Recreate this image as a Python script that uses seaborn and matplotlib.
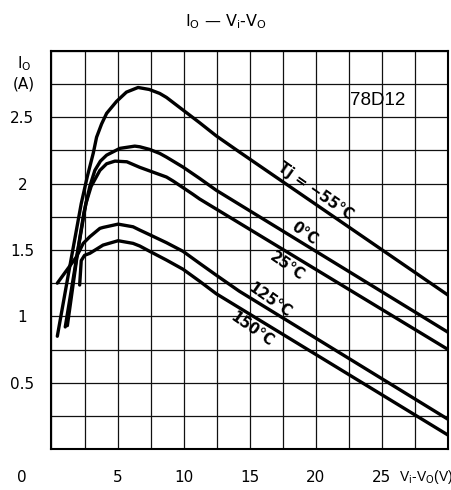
""" Io vs Vi-Vo output current curves for the 78D12 regulator """

import matplotlib
matplotlib.use("Agg")
import matplotlib.pyplot as plt
import numpy as np
import pandas as pd
import seaborn as sns

# curves: (Vi-Vo in V, Io in A)
temps = ["-55", "0", "25", "125", "150"]

v_m55 = [0.44, 1.3, 2.25, 2.7, 3.16, 3.41, 3.79, 4.17, 4.92, 5.67, 6.55, 7.4, 8.19, 8.7, 9.95, 11.2, 12.47, 14.2, 30]
i_m55 = [0.85, 1.33, 1.85, 2.05, 2.23, 2.35, 2.45, 2.53, 2.62, 2.69, 2.725, 2.71, 2.68, 2.65, 2.555, 2.46, 2.36, 2.24, 1.16]

v_0 = [1.04, 1.75, 2.45, 2.9, 3.28, 3.7, 4.17, 5.17, 6.3, 6.68, 7.43, 8.19, 8.7, 9.95, 11.2, 12.47, 30]
i_0 = [0.92, 1.35, 1.78, 1.98, 2.10, 2.17, 2.215, 2.266, 2.283, 2.278, 2.258, 2.228, 2.2, 2.125, 2.04, 1.95, 0.88]

v_25 = [1.2, 2.0, 2.6, 3.0, 3.66, 4.17, 4.8, 5.7, 6.68, 8.7, 9.2, 10.7, 11.2, 30]
i_25 = [0.93, 1.5, 1.85, 1.98, 2.10, 2.15, 2.17, 2.165, 2.123, 2.05, 2.02, 1.92, 1.885, 0.75]

v_125 = [0.44, 1.9, 2.4, 2.9, 3.66, 3.9, 5.04, 6.17, 6.68, 7.43, 8.7, 9.95, 11.2, 12.47, 14.2, 30]
i_125 = [1.25, 1.45, 1.55, 1.6, 1.663, 1.67, 1.695, 1.675, 1.65, 1.615, 1.555, 1.49, 1.40, 1.31, 1.19, 0.224]

v_150 = [2.13, 2.25, 2.5, 2.9, 3.9, 5.04, 6.17, 6.68, 7.43, 8.7, 9.95, 11.2, 12.47, 30]
i_150 = [1.236, 1.42, 1.46, 1.475, 1.537, 1.57, 1.55, 1.53, 1.49, 1.424, 1.355, 1.265, 1.17, 0.105]

curve_labels = ["Tj = −55°C", "0°C", "25°C", "125°C", "150°C"]

x_ticks = [5, 10, 15, 20, 25]
x_tick_labels = ["5", "10", "15", "20", "25"]
y_ticks = [0.5, 1, 1.5, 2, 2.5]
y_tick_labels = ["0.5", "1", "1.5", "2", "2.5"]

# build a long table for seaborn
frames = []
for t, v, i in zip(temps, [v_m55, v_0, v_25, v_125, v_150], [i_m55, i_0, i_25, i_125, i_150]):
    frames.append(pd.DataFrame({"Tj": t, "V": v, "I": i}))
df = pd.concat(frames, ignore_index=True)

sns.set_style("white")
plt.rcParams["font.family"] = ["DejaVu Sans"]
plt.rcParams["text.color"] = "black"
plt.rcParams["xtick.color"] = "black"
plt.rcParams["ytick.color"] = "black"

fig = plt.figure(figsize=(4.52, 4.90), dpi=100)
ax = fig.add_axes([51.5 / 452, 1 - 449 / 490, 396.5 / 452, 398 / 490])

sns.lineplot(data=df, x="V", y="I", units="Tj", estimator=None, sort=False,
             color="black", linewidth=2.4, ax=ax)
for line in ax.lines:
    line.set_solid_joinstyle("round")

ax.set_xlim(0, 30)
ax.set_ylim(0, 3)

# grid every 2.5 V and 0.25 A
ax.set_xticks(x_ticks)
ax.set_xticklabels(x_tick_labels)
ax.set_xticks(np.arange(0, 30.01, 2.5), minor=True)
ax.set_yticks(y_ticks)
ax.set_yticklabels(y_tick_labels)
ax.set_yticks(np.arange(0, 3.01, 0.25), minor=True)
ax.grid(which="both", color="#111111", linewidth=0.9)
ax.tick_params(which="both", length=0, labelsize=11)
ax.tick_params(axis="x", pad=15)
ax.tick_params(axis="y", pad=21)
for lab in ax.get_yticklabels():
    lab.set_horizontalalignment("center")
for side in ax.spines.values():
    side.set_color("black")
    side.set_linewidth(1.5)
ax.set_xlabel("")
ax.set_ylabel("")

# curve labels along the lines
label_pos = [(19.95, 1.94), (19.13, 1.625), (17.85, 1.38), (16.5, 1.123), (15.15, 0.904)]
for txt, (lx, ly) in zip(curve_labels, label_pos):
    ax.text(lx, ly, txt, rotation=-35, ha="center", va="center", fontsize=10.5,
            fontweight="semibold")

ax.text(24.7, 2.63, "78D12", ha="center", va="center", fontsize=13.5,
        family="Liberation Sans")

# titles and axis captions
fig.text(0.5, 1 - 22 / 490, r"I$_\mathrm{O}$ — V$_\mathrm{i}$-V$_\mathrm{O}$",
         ha="center", va="center", fontsize=11.5)
fig.text(24 / 452, 1 - 64 / 490, r"I$_\mathrm{O}$", ha="center", va="center", fontsize=11)
fig.text(24 / 452, 1 - 84 / 490, "(A)", ha="center", va="center", fontsize=11)
fig.text(22 / 452, 1 - 477 / 490, "0", ha="center", va="center", fontsize=11)
fig.text(399 / 452, 1 - 477 / 490, r"V$_\mathrm{i}$-V$_\mathrm{O}$(V)",
         ha="left", va="center", fontsize=10, family="Liberation Sans")

fig.savefig("out.png", dpi=100)
